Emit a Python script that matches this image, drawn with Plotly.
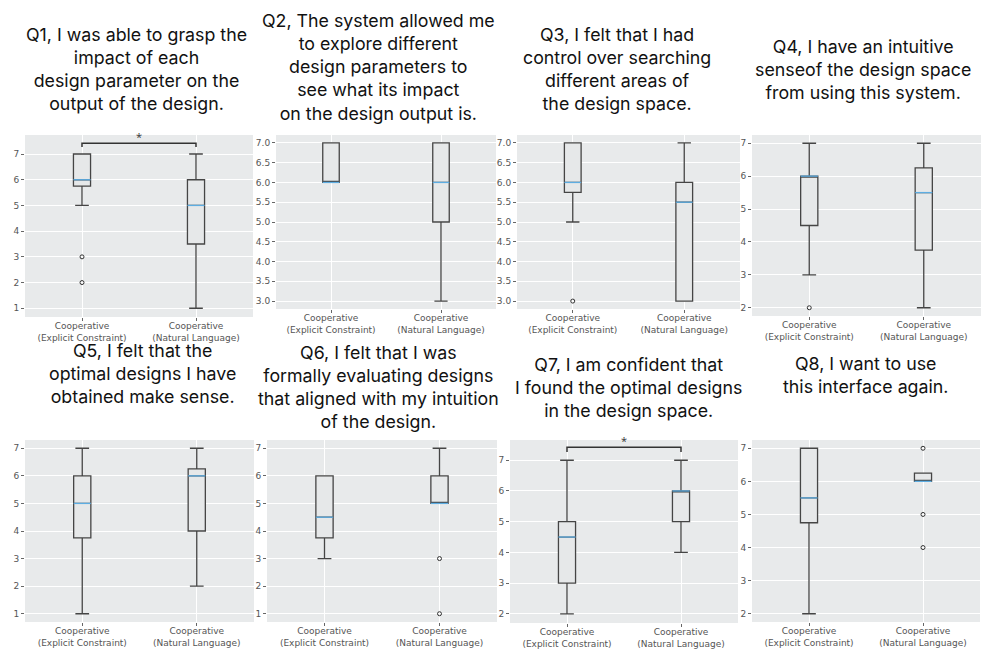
import plotly.graph_objects as go

# Survey questions (panel titles)
titles = [
    "Q1, I was able to grasp the<br>impact of each<br>design parameter on the<br>output of the design.",
    "Q2, The system allowed me<br>to explore different<br>design parameters to<br>see what its impact<br>on the design output is.",
    "Q3, I felt that I had<br>control over searching<br>different areas of<br>the design space.",
    "Q4, I have an intuitive<br>senseof the design space<br>from using this system.",
    "Q5, I felt that the<br>optimal designs I have<br>obtained make sense.",
    "Q6, I felt that I was<br>formally evaluating designs<br>that aligned with my intuition<br>of the design.",
    "Q7, I am confident that<br>I found the optimal designs<br>in the design space.",
    "Q8, I want to use<br>this interface again.",
]
conditions = ["Cooperative<br>(Explicit Constraint)", "Cooperative<br>(Natural Language)"]

# box statistics per question: [explicit constraint, natural language]
lower_whisker = [[5, 1], [6, 3], [5, 3], [3, 2], [1, 2], [3, 5], [2, 4], [2, 6]]
q1 = [[5.75, 3.5], [6, 5], [5.75, 3], [4.5, 3.75], [3.75, 4], [3.75, 5], [3, 5], [4.75, 6]]
median = [[6, 5], [6, 6], [6, 5.5], [6, 5.5], [5, 6], [4.5, 5], [4.5, 6], [5.5, 6]]
q3 = [[7, 6], [7, 7], [7, 6], [6, 6.25], [6, 6.25], [6, 6], [5, 6], [7, 6.25]]
upper_whisker = [[7, 7], [7, 7], [7, 7], [7, 7], [7, 7], [6, 7], [7, 7], [7, 6.25]]
outliers = [[[3, 2], []], [[], []], [[3], []], [[2], []],
            [[], []], [[], [3, 1]], [[], []], [[], [7, 5, 4]]]
significant = [True, False, False, False, False, False, True, False]

# page geometry; the browser adds an 8px body margin, so the figure is shrunk by it
W, H, OFF = 997, 660, 8
FW, FH = W - OFF, H - OFF
# panel rectangles in page pixels: left, right, top, bottom
panels = [(25, 253, 135, 317), (276, 496, 135, 309), (517, 740, 135, 309), (752, 981, 135, 316),
          (25, 254, 440, 622), (267, 497, 440, 622), (510, 738, 440, 623), (752, 980, 440, 622)]
yranges = [[0.66, 7.74], [2.8, 7.2], [2.8, 7.2], [1.75, 7.25],
           [0.7, 7.3], [0.7, 7.3], [1.7, 7.66], [1.75, 7.25]]
ydticks = [1, 0.5, 0.5, 1, 1, 1, 1, 1]
title_x = [136, 378, 617, 863, 142, 378, 628, 865]
title_y = [69, 67, 69, 69, 373, 387, 387, 375]


def px(x):
    return (x - OFF) / FW


def py(y):
    return 1 - (y - OFF) / FH


BOXW = 0.15
positions = [1, 2]
tickfont = dict(family="DejaVu Sans", size=9, color="#555")

fig = go.Figure()
layout = {}
for i in range(8):
    n = i + 1
    xa = "x" if n == 1 else f"x{n}"
    ya = "y" if n == 1 else f"y{n}"
    fig.add_trace(go.Box(
        x=positions, q1=q1[i], median=median[i], q3=q3[i],
        lowerfence=lower_whisker[i], upperfence=upper_whisker[i],
        width=BOXW, whiskerwidth=0.8, boxpoints=False,
        line=dict(color="#454545", width=1.3), fillcolor="#e6e8e9",
        xaxis=xa, yaxis=ya, showlegend=False, hoverinfo="skip"))
    # median lines in blue
    mx, my = [], []
    for p, m in zip(positions, median[i]):
        mx += [p - BOXW / 2, p + BOXW / 2, None]
        my += [m, m, None]
    fig.add_trace(go.Scatter(x=mx, y=my, mode="lines", line=dict(color="#5dade2", width=1.3),
                             xaxis=xa, yaxis=ya, showlegend=False, hoverinfo="skip"))
    ox, oy = [], []
    for p, vals in zip(positions, outliers[i]):
        ox += [p] * len(vals)
        oy += vals
    if ox:
        fig.add_trace(go.Scatter(x=ox, y=oy, mode="markers",
                                 marker=dict(symbol="circle-open", size=4, color="#333",
                                             line=dict(width=1)),
                                 xaxis=xa, yaxis=ya, showlegend=False, hoverinfo="skip"))
    if significant[i]:
        top = max(upper_whisker[i]) + 0.42
        fig.add_trace(go.Scatter(x=[1, 1, 2, 2], y=[top - 0.15, top, top, top - 0.15],
                                 mode="lines", line=dict(color="#333", width=1.5),
                                 xaxis=xa, yaxis=ya, showlegend=False, hoverinfo="skip"))
        fig.add_annotation(x=1.5, y=top, xref=xa, yref=ya, text="*", showarrow=False,
                           yanchor="bottom", yshift=-3, font=dict(size=11, color="#333"))

    l, r, t, b = panels[i]
    layout[f"xaxis{'' if n == 1 else n}"] = dict(
        domain=[px(l), px(r)], anchor=ya, range=[0.5, 2.5], automargin=False,
        tickvals=positions, ticktext=conditions, showgrid=True, gridcolor="white",
        gridwidth=1, zeroline=False, ticks="outside", ticklen=3, tickcolor="#666",
        tickfont=tickfont, ticklabelstandoff=-3)
    layout[f"yaxis{'' if n == 1 else n}"] = dict(
        domain=[py(b), py(t)], anchor=xa, range=yranges[i], automargin=False,
        dtick=ydticks[i], tickformat=".1f" if ydticks[i] < 1 else "d",
        showgrid=True, gridcolor="white", gridwidth=1, zeroline=False,
        ticks="outside", ticklen=3, tickcolor="#666", tickfont=tickfont)
    fig.add_annotation(x=px(title_x[i]), y=py(title_y[i]), xref="paper", yref="paper",
                       text=titles[i], showarrow=False, xanchor="center", yanchor="middle",
                       font=dict(family="Inter", size=17.8, color="#111"))

fig.update_layout(
    width=FW, height=FH, margin=dict(l=0, r=0, t=0, b=0),
    paper_bgcolor="white", plot_bgcolor="#e8eaeb", **layout)

fig.write_html("out.html")
